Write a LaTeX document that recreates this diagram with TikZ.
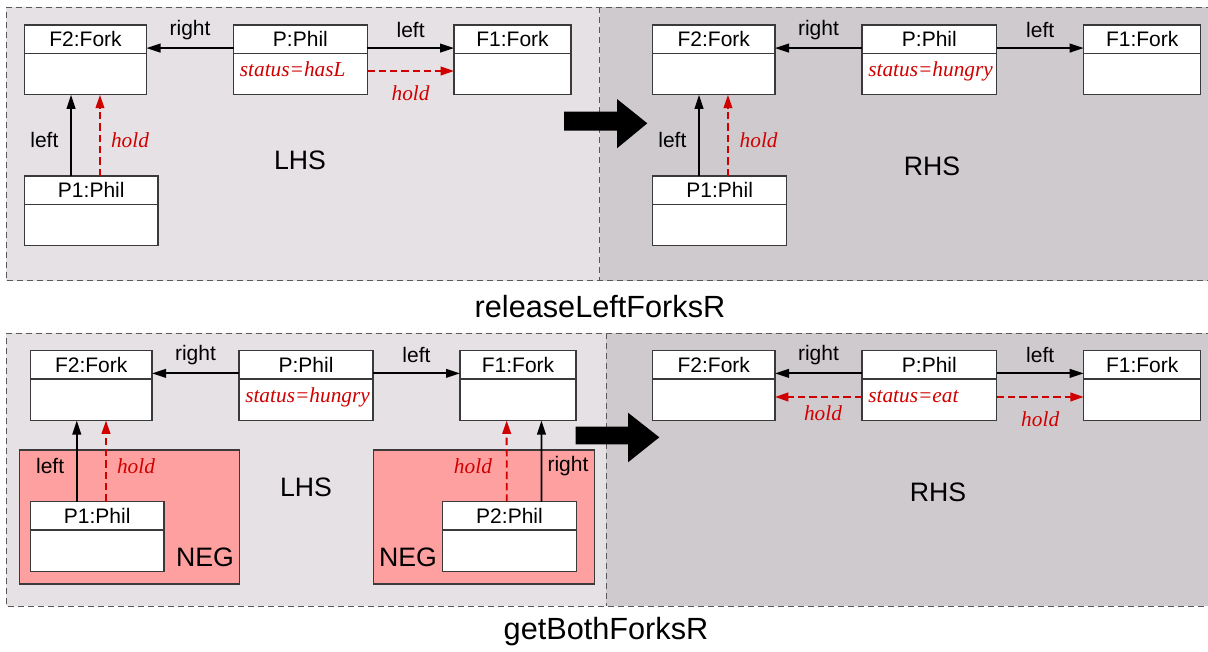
\documentclass[tikz,border=0pt]{standalone}
\usepackage{fontspec}
\setmainfont{Liberation Sans}
\newfontfamily\tnr{Liberation Serif}
\usetikzlibrary{arrows.meta}
\definecolor{lhsfill}{HTML}{E6E1E5}
\definecolor{rhsfill}{HTML}{CFCACE}
\definecolor{negfill}{HTML}{FFA0A0}
\definecolor{redc}{HTML}{D00000}
\definecolor{edgec}{HTML}{3A3A3A}
\tikzset{
 hdr/.style={draw=edgec, line width=0.9pt, fill=white, minimum height=21.2pt, inner sep=0pt, outer sep=0pt, font=\fontsize{15.75}{18}\selectfont, anchor=north west},
 bdy/.style={draw=edgec, line width=0.9pt, fill=white, minimum height=31.2pt, inner sep=0pt, outer sep=0pt, anchor=north west},
 attr/.style={text=redc, font=\tnr\itshape\fontsize{16}{18}\selectfont, inner sep=0pt, anchor=base west},
 lbl/.style={font=\fontsize{15.75}{18}\selectfont, inner sep=0pt},
 hlbl/.style={text=redc, font=\tnr\itshape\fontsize{16}{18}\selectfont, inner sep=0pt},
 bigl/.style={font=\fontsize{20}{24}\selectfont, inner sep=0pt},
 ttl/.style={font=\fontsize{23}{27}\selectfont, inner sep=0pt},
 assoc/.style={-{Triangle[length=10.5pt,width=6.5pt]}, line width=1.4pt, black},
 holdc/.style={-{Triangle[length=10pt,width=6.5pt]}, line width=1.4pt, redc, dash pattern=on 5.5pt off 3pt},
 frame/.style={draw=black!65, line width=0.75pt, dash pattern=on 4.5pt off 3pt},
 negbox/.style={draw=edgec, line width=0.9pt, fill=negfill},
}
\newcommand\umlcls[6]{%
 \node[hdr, minimum width=#4*0.75pt] (#1) at (#2,#3) {#5};
 \node[bdy, minimum width=#4*0.75pt] (#1b) at (#1.south west) {};
 \ifx&#6&\else\node[attr] (#1a) at ([xshift=4.5pt,yshift=-17.7pt]#1b.north west) {#6};\fi
}
\begin{document}
\begin{tikzpicture}[x=0.75pt,y=-0.75pt]
\useasboundingbox (0,0) rectangle (1208,651);
% ---------- top panel ----------
\fill[lhsfill] (6.3,7.3) rectangle (599.6,280.7);
\fill[rhsfill] (599.6,7.3) rectangle (1212,280.7);
\draw[frame] (1212,7.3) -- (6.3,7.3) -- (6.3,280.7) -- (1212,280.7);
\draw[frame] (599.6,7.3) -- (599.6,280.7);
% ---------- bottom panel ----------
\fill[lhsfill] (6.3,333.3) rectangle (606,606);
\fill[rhsfill] (606,333.3) rectangle (1212,606);
\draw[frame] (1212,333.3) -- (6.3,333.3) -- (6.3,606) -- (1212,606);
\draw[frame] (606,333.3) -- (606,606);
\node[negbox, minimum width=165.3pt, minimum height=100.5pt, anchor=north west] (neg1) at (18.6,449.3) {};
\node[negbox, minimum width=165.5pt, minimum height=100.5pt, anchor=north west] (neg2) at (373,449.3) {};

% top LHS
\umlcls{AF2}{24.5}{25}{122}{F2:Fork}{}
\umlcls{AP}{233.6}{25}{133.6}{P:Phil}{status=hasL}
\umlcls{AF1}{454}{25}{117}{F1:Fork}{}
\umlcls{AP1}{24.5}{176}{133.5}{P1:Phil}{}
% top RHS
\umlcls{BF2}{652.5}{25}{122.5}{F2:Fork}{}
\umlcls{BP}{862}{25}{134.7}{P:Phil}{status=hungry}
\umlcls{BF1}{1083.7}{25}{117}{F1:Fork}{}
\umlcls{BP1}{652.5}{176}{134.3}{P1:Phil}{}
% bottom LHS
\umlcls{CF2}{30.4}{350.7}{121.6}{F2:Fork}{}
\umlcls{CP}{239}{350.7}{134}{P:Phil}{status=hungry}
\umlcls{CF1}{460}{350.7}{116}{F1:Fork}{}
\umlcls{CP1}{30.4}{501.7}{133.6}{P1:Phil}{}
\umlcls{CP2}{442.7}{501.7}{133.6}{P2:Phil}{}
% bottom RHS
\umlcls{DF2}{652.5}{350.7}{122.5}{F2:Fork}{}
\umlcls{DP}{862}{350.7}{134.7}{P:Phil}{status=eat}
\umlcls{DF1}{1083.7}{350.7}{117}{F1:Fork}{}

% ---- edges top LHS
\draw[assoc] ([yshift=3.9pt]AP.south west) -- node[lbl,yshift=13.7pt]{right} ([yshift=3.9pt]AF2.south east);
\draw[assoc] ([yshift=3.9pt]AP.south east) -- node[lbl,yshift=13.7pt]{left} ([yshift=3.9pt]AF1.south west);
\draw[holdc] ([yshift=-13.3pt]APb.north east) -- node[hlbl,yshift=-17pt]{hold} ([yshift=-13.3pt]AF1b.north west);
\draw[assoc] ([xshift=34.9pt]AP1.north west) -- node[lbl,xshift=-20pt,yshift=-3.4pt]{left} ([xshift=34.9pt]AF2b.south west);
\draw[holdc] ([xshift=56.6pt]AP1.north west) -- node[hlbl,xshift=22.5pt,yshift=-3.4pt]{hold} ([xshift=56.6pt]AF2b.south west);
% ---- edges top RHS
\draw[assoc] ([yshift=3.9pt]BP.south west) -- node[lbl,yshift=13.7pt]{right} ([yshift=3.9pt]BF2.south east);
\draw[assoc] ([yshift=3.9pt]BP.south east) -- node[lbl,yshift=13.7pt]{left} ([yshift=3.9pt]BF1.south west);
\draw[assoc] ([xshift=34.9pt]BP1.north west) -- node[lbl,xshift=-20pt,yshift=-3.4pt]{left} ([xshift=34.9pt]BF2b.south west);
\draw[holdc] ([xshift=56.6pt]BP1.north west) -- node[hlbl,xshift=23pt,yshift=-3.4pt]{hold} ([xshift=56.6pt]BF2b.south west);
% ---- edges bottom LHS
\draw[assoc] ([yshift=4.2pt]CP.south west) -- node[lbl,yshift=13.7pt]{right} ([yshift=4.2pt]CF2.south east);
\draw[assoc] ([yshift=4.2pt]CP.south east) -- node[lbl,yshift=13.7pt]{left} ([yshift=4.2pt]CF1.south west);
\draw[assoc] ([xshift=34.8pt]CP1.north west) -- node[lbl,xshift=-20pt,yshift=-4pt]{left} ([xshift=34.8pt]CF2b.south west);
\draw[holdc] ([xshift=56.7pt]CP1.north west) -- node[hlbl,xshift=22.5pt,yshift=-4pt]{hold} ([xshift=56.7pt]CF2b.south west);
\draw[holdc] ([xshift=48pt]CP2.north west) -- node[hlbl,xshift=-25.3pt,yshift=-4pt]{hold} ([xshift=35pt]CF1b.south west);
\draw[assoc] ([xshift=74.1pt]CP2.north west) -- node[lbl,xshift=19.9pt,yshift=-4pt]{right} ([xshift=61.1pt]CF1b.south west);
% ---- edges bottom RHS
\draw[assoc] ([yshift=4.2pt]DP.south west) -- node[lbl,yshift=13.7pt]{right} ([yshift=4.2pt]DF2.south east);
\draw[assoc] ([yshift=4.2pt]DP.south east) -- node[lbl,yshift=13.7pt]{left} ([yshift=4.2pt]DF1.south west);
\draw[holdc] ([yshift=-13.5pt]DPb.north west) -- node[hlbl,xshift=3.4pt,yshift=-12pt]{hold} ([yshift=-13.5pt]DF2b.north east);
\draw[holdc] ([yshift=-13.5pt]DPb.north east) -- node[hlbl,yshift=-16.5pt]{hold} ([yshift=-13.5pt]DF1b.north west);

% ---- big labels
\node[bigl] (lhs1) at (300,160) {LHS};
\node[bigl] (rhs1) at (932,166) {RHS};
\node[bigl] (lhs2) at (306,487) {LHS};
\node[bigl] (rhs2) at (938,492) {RHS};
\node[bigl] (negl1) at (205,557) {NEG};
\node[bigl] (negl2) at (408,557) {NEG};
\node[ttl] (t1) at (600,307) {releaseLeftForksR};
\node[ttl] (t2) at (606,632) {getBothForksR};

% ---- big arrows
\fill[black] (564,111.7) -- (617,111.7) -- (617,99) -- (647.3,123.3) -- (617,148.3) -- (617,130.7) -- (564,130.7) -- cycle;
\fill[black] (575.7,426.7) -- (628,426.7) -- (628,412.7) -- (659.3,437.3) -- (628,462.3) -- (628,444.3) -- (575.7,444.3) -- cycle;
\end{tikzpicture}
\end{document}
